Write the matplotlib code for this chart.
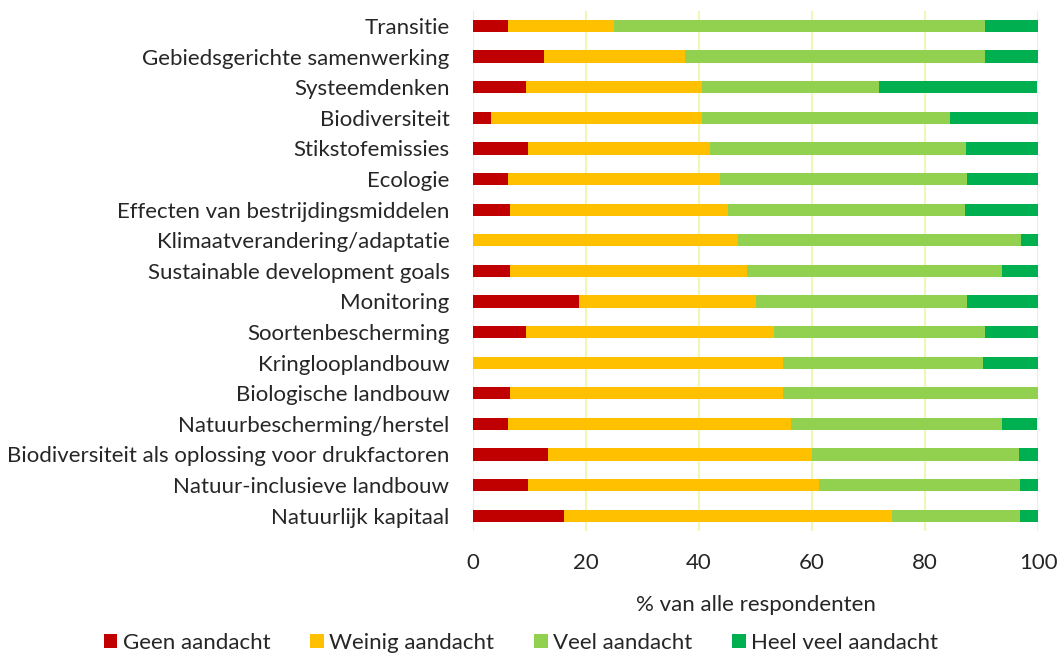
import numpy as np
import matplotlib
matplotlib.use('Agg')
import matplotlib.pyplot as plt

categories = ['Transitie', 'Gebiedsgerichte samenwerking', 'Systeemdenken',
              'Biodiversiteit', 'Stikstofemissies', 'Ecologie',
              'Effecten van bestrijdingsmiddelen', 'Klimaatverandering/adaptatie',
              'Sustainable development goals', 'Monitoring', 'Soortenbescherming',
              'Kringlooplandbouw', 'Biologische landbouw', 'Natuurbescherming/herstel',
              'Biodiversiteit als oplossing voor drukfactoren',
              'Natuur-inclusieve landbouw', 'Natuurlijk kapitaal']

geen = [6.2, 12.5, 9.4, 3.1, 9.7, 6.2, 6.5, 0.0, 6.5, 18.8, 9.4, 0.0, 6.5, 6.2, 13.3, 9.7, 16.1]
weinig = [18.8, 25.0, 31.2, 37.5, 32.3, 37.5, 38.7, 46.9, 41.9, 31.2, 43.8, 54.8, 48.4, 50.0, 46.7, 51.6, 58.1]
veel = [65.6, 53.1, 31.2, 43.8, 45.2, 43.8, 41.9, 50.0, 45.2, 37.5, 37.5, 35.5, 45.2, 37.5, 36.7, 35.5, 22.6]
heel_veel = [9.4, 9.4, 28.1, 15.6, 12.9, 12.5, 12.9, 3.1, 6.5, 12.5, 9.4, 9.7, 0.0, 6.2, 3.3, 3.2, 3.2]

series = ['Geen aandacht', 'Weinig aandacht', 'Veel aandacht', 'Heel veel aandacht']
colors = ['#C00000', '#FFC000', '#92D050', '#00B050']

plt.rcParams['font.family'] = ['Lato', 'DejaVu Sans']
fs = 16
txt = '#262626'

fig = plt.figure(figsize=(10.59, 6.57), dpi=100)
ax = fig.add_axes([0.4467, 0.1918, 0.5335, 0.7919])

y = np.arange(len(categories))
left = np.zeros(len(categories))
for vals, name, c in zip([geen, weinig, veel, heel_veel], series, colors):
    vals = np.array(vals)
    ax.barh(y, vals, left=left, height=0.4, color=c, label=name, zorder=3)
    left += vals

ax.set_ylim(len(categories) - 0.5, -0.5)
ax.set_xlim(0, 100)
ax.set_xticks(np.arange(0, 101, 20))
ax.set_yticks(y)
ax.set_yticklabels(categories)
ax.grid(axis='x', color='#EEF6B8', linewidth=1.5, zorder=0)
for s in ax.spines.values():
    s.set_visible(False)
ax.tick_params(axis='both', length=0, colors=txt, labelsize=fs)
ax.tick_params(axis='y', pad=17)
ax.tick_params(axis='x', pad=16)
ax.set_xlabel('% van alle respondenten', color=txt, fontsize=fs, labelpad=16)

fig.legend(loc='center', bbox_to_anchor=(0.492, 0.022), ncol=4, frameon=False,
           borderpad=0.1, handlelength=0.6, handleheight=0.6, handletextpad=0.25,
           columnspacing=1.8, labelcolor=txt, fontsize=fs)

fig.savefig('out.png', dpi=100)
